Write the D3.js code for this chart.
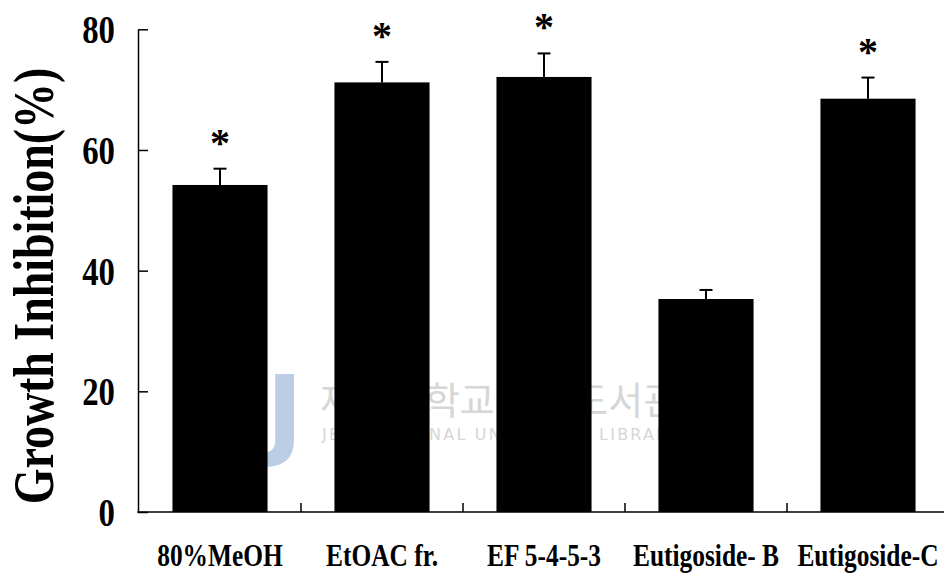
<!DOCTYPE html>
<html>
<head>
<meta charset="utf-8">
<script src="https://cdn.jsdelivr.net/npm/d3@7"></script>
<style>
  html, body { margin: 0; padding: 0; background: #fff; }
  svg { display: block; }
  text { font-family: "Liberation Serif", "Times New Roman", serif; font-weight: bold; }
</style>
</head>
<body>
<svg id="chart" width="944" height="574"></svg>
<script>
const categories = ["80%MeOH", "EtOAC fr.", "EF 5-4-5-3", "Eutigoside- B", "Eutigoside-C"];
const values = [54.2, 71.2, 72.1, 35.3, 68.5];
const errors = [2.7, 3.4, 3.9, 1.5, 3.5];
const significant = [true, true, true, false, true];
const yTicks = [0, 20, 40, 60, 80];
const yTitle = "Growth Inhibition(%)";

const svg = d3.select("#chart");
const W = 944, H = 574;
const x = d3.scaleBand().domain(categories).range([139, 949]).padding(0);
const y = d3.scaleLinear().domain([0, 80]).range([512, 29.3]);
const barW = x.bandwidth() * 0.587;
const SX = 0.82;

// watermark
const wm = svg.append("g").attr("class", "watermark");
wm.append("text").attr("x", 266).attr("y", 447).attr("font-size", 100)
  .style("font-family", "DejaVu Sans").style("font-weight", "bold")
  .attr("fill", "#bccde6").text("J");
wm.append("text").attr("x", 320).attr("y", 414).attr("font-size", 38)
  .style("font-family", "Noto Sans CJK KR").style("font-weight", "normal")
  .attr("fill", "#d6d6d6").text("제주대학교 중앙도서관");
wm.append("text").attr("x", 322).attr("y", 440).attr("font-size", 16)
  .style("font-family", "DejaVu Sans").style("font-weight", "normal")
  .attr("fill", "#d6d6d6").attr("letter-spacing", 2.2).text("JEJU NATIONAL UNIVERSITY LIBRARY");

// bars
svg.append("g").selectAll("rect").data(categories).join("rect")
  .attr("x", d => x(d) + (x.bandwidth() - barW) / 2)
  .attr("width", barW)
  .attr("y", (d, i) => y(values[i]))
  .attr("height", (d, i) => y(0) - y(values[i]))
  .attr("fill", "#000");

// error bars
const eb = svg.append("g").attr("stroke", "#000").attr("stroke-width", 2);
categories.forEach((c, i) => {
  const cx = x(c) + x.bandwidth() / 2;
  eb.append("line").attr("x1", cx).attr("x2", cx)
    .attr("y1", y(values[i])).attr("y2", y(values[i] + errors[i]));
  eb.append("line").attr("x1", cx - 6.5).attr("x2", cx + 6.5)
    .attr("y1", y(values[i] + errors[i])).attr("y2", y(values[i] + errors[i]));
});

// asterisks
svg.append("g").selectAll("text").data(categories.filter((c, i) => significant[i])).join("text")
  .attr("transform", d => {
    const i = categories.indexOf(d);
    return `translate(${x(d) + x.bandwidth() / 2},${y(values[i] + errors[i]) - 32 + 19})`;
  })
  .attr("text-anchor", "middle").attr("font-size", 40).attr("fill", "#000").text("*");

// y axis
const yAxis = svg.append("g").attr("transform", `translate(${x.range()[0] - 1},0)`)
  .call(d3.axisLeft(y).tickValues(yTicks).tickSizeInner(-10).tickSizeOuter(0).tickFormat(""));
yAxis.selectAll("path, line").attr("stroke", "#000").attr("stroke-width", 1.5);

svg.append("g").selectAll("text").data(yTicks).join("text")
  .attr("transform", d => `translate(115,${y(d) + 14}) scale(${SX},1)`)
  .attr("text-anchor", "end").attr("font-size", 40).attr("fill", "#000").text(d => d);

// x axis
const xg = svg.append("g").attr("stroke", "#000").attr("stroke-width", 1.5);
xg.append("line").attr("x1", x.range()[0] - 1.75).attr("x2", W).attr("y1", y(0)).attr("y2", y(0));
xg.selectAll("line.tk").data(categories.slice(1)).join("line").attr("class", "tk")
  .attr("x1", d => x(d)).attr("x2", d => x(d)).attr("y1", y(0)).attr("y2", y(0) - 9);

svg.append("g").selectAll("text").data(categories).join("text")
  .attr("transform", d => `translate(${x(d) + x.bandwidth() / 2},566) scale(${SX},1)`)
  .attr("text-anchor", "middle").attr("font-size", 31).attr("fill", "#000").text(d => d);

// y title
svg.append("text")
  .attr("transform", `translate(53,286) rotate(-90) scale(${SX},1)`)
  .attr("text-anchor", "middle").attr("font-size", 56).attr("fill", "#000").text(yTitle);
</script>
</body>
</html>
